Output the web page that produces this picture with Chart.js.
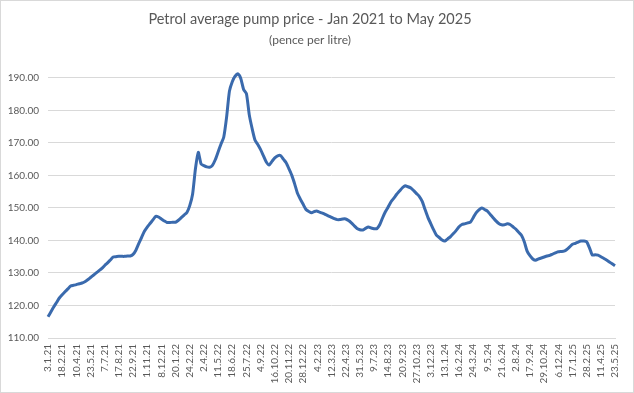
<!DOCTYPE html>
<html>
<head>
<meta charset="utf-8">
<script src="https://cdn.jsdelivr.net/npm/chart.js@4"></script>
<style>
  html, body { margin: 0; padding: 0; background: #fff; }
  #wrap { width: 634px; height: 393px; box-sizing: border-box; border: 1px solid #d9d9d9; }
</style>
</head>
<body>
<div id="wrap"><canvas id="line-chart" width="632" height="391"></canvas></div>
<script>
// tick labels shown on the x axis (every 5th reading)
var tickLabels = ['3.1.21', '18.2.21', '10.4.21', '23.5.21', '7.7.21', '17.8.21', '22.9.21', '1.11.21',
    '8.12.21', '20.1.22', '24.2.22', '2.4.22', '11.5.22', '18.6.22', '25.7.22', '4.9.22', '16.10.22',
    '20.11.22', '28.12.22', '4.2.23', '12.3.23', '22.4.23', '31.5.23', '9.7.23', '14.8.23', '20.9.23',
    '27.10.23', '3.12.23', '13.1.24', '16.2.24', '24.3.24', '9.5.24', '21.6.24', '2.8.24', '17.9.24',
    '29.10.24', '6.12.24', '17.1.25', '28.2.25', '11.4.25', '23.5.25'];

// average pump price, pence per litre
var prices = [
    116.5, 118.0, 119.5, 120.9, 122.3, 123.3, 124.2, 125.1, 126.0, 126.2,
    126.4, 126.7, 126.9, 127.3, 127.9, 128.6, 129.3, 130.0, 130.7, 131.4,
    132.3, 133.1, 134.0, 134.9, 135.0, 135.1, 135.1, 135.1, 135.2, 135.2,
    135.7, 137.0, 139.0, 140.9, 142.8, 144.1, 145.2, 146.3, 147.4, 147.2,
    146.6, 146.0, 145.5, 145.5, 145.6, 145.6, 146.2, 147.0, 147.8, 148.6,
    150.7, 154.2, 162.0, 167.1, 163.5, 163.0, 162.6, 162.5, 163.1, 164.8,
    167.2, 169.6, 171.8, 177.9, 185.9, 188.8, 190.5, 191.2, 189.8, 186.4,
    185.1, 178.6, 174.4, 170.9, 169.5, 167.9, 166.0, 164.1, 163.2, 164.3,
    165.4, 166.0, 166.1, 165.0, 163.9, 162.0, 160.0, 157.4, 154.5, 152.7,
    151.1, 149.5, 148.9, 148.5, 148.9, 149.0, 148.6, 148.3, 147.9, 147.5,
    147.1, 146.7, 146.4, 146.4, 146.6, 146.6, 146.1, 145.4, 144.5, 143.7,
    143.3, 143.2, 143.7, 144.1, 143.8, 143.6, 143.6, 144.8, 146.9, 148.8,
    150.3, 151.9, 153.0, 154.2, 155.2, 156.2, 156.8, 156.5, 156.1, 155.3,
    154.4, 153.5, 152.0, 149.5, 147.1, 145.2, 143.3, 141.6, 140.9, 140.1,
    139.8, 140.5, 141.2, 142.1, 143.1, 144.2, 144.9, 145.1, 145.4, 145.6,
    147.0, 148.5, 149.4, 150.0, 149.5, 149.0, 148.0, 147.0, 146.0, 145.2,
    144.8, 144.8, 145.1, 144.9, 144.2, 143.5, 142.5, 141.6, 139.6, 136.7,
    135.3, 134.3, 133.9, 134.3, 134.6, 134.9, 135.2, 135.4, 135.8, 136.2,
    136.5, 136.6, 136.7, 137.2, 138.0, 138.8, 139.1, 139.5, 139.8, 139.8,
    139.6, 137.7, 135.5, 135.6, 135.5, 135.0, 134.5, 134.0, 133.4, 132.8,
    132.2
];

var perTick = 5;
var yMin = 110, yMax = 190, yStep = 10;

var labels = prices.map(function (p, i) {
    return i % perTick === 0 ? tickLabels[i / perTick] : '';
});

var grey = '#595959';
var font = 'Lato, "Liberation Sans", sans-serif';

var ctx = document.getElementById('line-chart');

var chartGraph = new Chart(ctx, {
    type: 'line',
    data: {
        labels: labels,
        datasets: [{
            label: 'Petrol',
            data: prices,
            borderColor: '#3a6aad',
            borderWidth: 3,
            pointRadius: 0,
            tension: 0.2,
            fill: false,
            clip: false
        }]
    },
    options: {
        responsive: false,
        animation: false,
        layout: { padding: { left: 0, right: 14, top: 0, bottom: 0 } },
        plugins: {
            legend: { display: false },
            tooltip: { enabled: false },
            title: {
                display: true,
                text: 'Petrol average pump price - Jan 2021 to May 2025',
                color: grey,
                font: { family: font, size: 14.5, weight: 'normal' },
                padding: { top: 10, bottom: 0 }
            },
            subtitle: {
                display: true,
                text: '(pence per litre)',
                color: grey,
                font: { family: font, size: 12, weight: 'normal' },
                padding: { top: 5, bottom: 30 }
            }
        },
        scales: {
            x: {
                offset: false,
                grid: { display: false, drawTicks: false },
                border: { display: true, color: '#d9d9d9' },
                afterBuildTicks: function (axis) {
                    axis.ticks = axis.ticks.filter(function (t) { return t.value % perTick === 0; });
                },
                afterFit: function (axis) { axis.height = 54; },
                ticks: {
                    autoSkip: false,
                    minRotation: 90,
                    maxRotation: 90,
                    padding: 6,
                    color: grey,
                    font: { family: font, size: 10 }
                }
            },
            y: {
                min: yMin,
                max: yMax,
                grid: { color: '#d9d9d9', drawTicks: false },
                border: { display: false },
                afterFit: function (axis) { axis.width = 47; },
                ticks: {
                    stepSize: yStep,
                    padding: 9,
                    color: grey,
                    font: { family: font, size: 10 },
                    callback: function (v) { return v.toFixed(2); }
                }
            }
        }
    }
});
</script>
</body>
</html>
